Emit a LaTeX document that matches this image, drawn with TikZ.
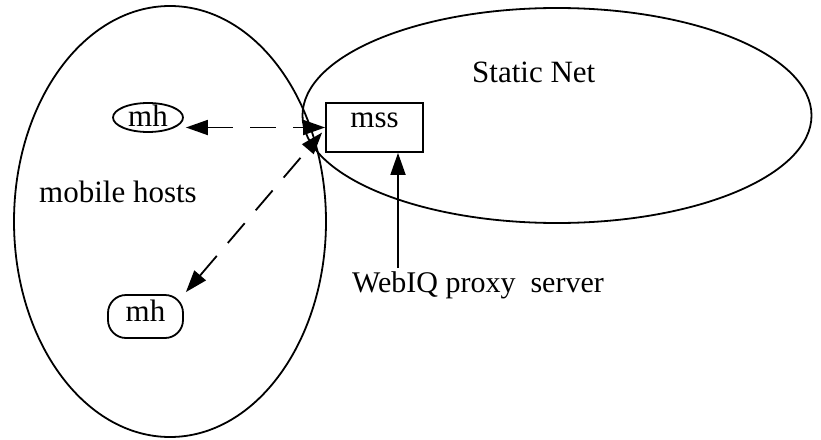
\documentclass[tikz,border=0pt]{standalone}
\usepackage{fontspec}
\setmainfont{Liberation Serif}
\usetikzlibrary{shapes.geometric,arrows.meta}
\begin{document}
\begin{tikzpicture}[x=1pt,y=-1pt,
  big/.style={font=\fontsize{31}{37}\selectfont},
  outline/.style={draw, line width=1.8pt},
  lbl/.style={big, inner sep=0pt, anchor=base west},
  link/.style={line width=1.8pt, dash pattern=on 26pt off 17pt, {Triangle[length=22pt,width=15pt]}-{Triangle[length=22pt,width=15pt]}},
  feed/.style={line width=1.8pt, -{Triangle[length=22pt,width=15pt]}}]
\useasboundingbox (0,0) rectangle (821,439);

% the two regions
\node[ellipse, outline, minimum width=312pt, minimum height=431pt, inner sep=0pt] (mobile) at (170,221.5) {};
\node[ellipse, outline, minimum width=509pt, minimum height=215pt, inner sep=0pt] (static) at (557,115.5) {};

% region labels
\node[lbl] (mobilelbl) at (39,202) {mobile hosts};
\node[lbl] (staticlbl) at (472,82) {Static Net};
\node[lbl, font=\fontsize{30}{36}\selectfont] (proxy) at (352,292) {WebIQ proxy\hspace{0.25em} server};

% support station and mobile hosts
\node[outline, big, minimum width=97pt, minimum height=49pt, inner sep=0pt,
      text height=14pt, text depth=15pt] (mss) at (374.5,127.5) {mss};
\node[ellipse, outline, big, minimum width=70pt, minimum height=29pt, inner sep=0pt,
      text height=17pt, text depth=0pt] (mh1) at (148,117.5) {mh};
\node[outline, big, rounded corners=18pt, minimum width=75pt, minimum height=43pt, inner sep=0pt,
      text height=20pt, text depth=11pt] (mh2) at (145.5,316.5) {mh};

% wireless links
\draw[link] ([xshift=2pt]mh1.east |- mss.west) -- (mss.west);
\draw[link] ([shift={(2pt,2pt)}]mh2.north east) -- ([shift={(-3pt,-5pt)}]mss.west);

% proxy server feed
\coordinate (feedstart) at (398,268);
\draw[feed] (feedstart) -- (feedstart |- mss.south);
\end{tikzpicture}
\end{document}
